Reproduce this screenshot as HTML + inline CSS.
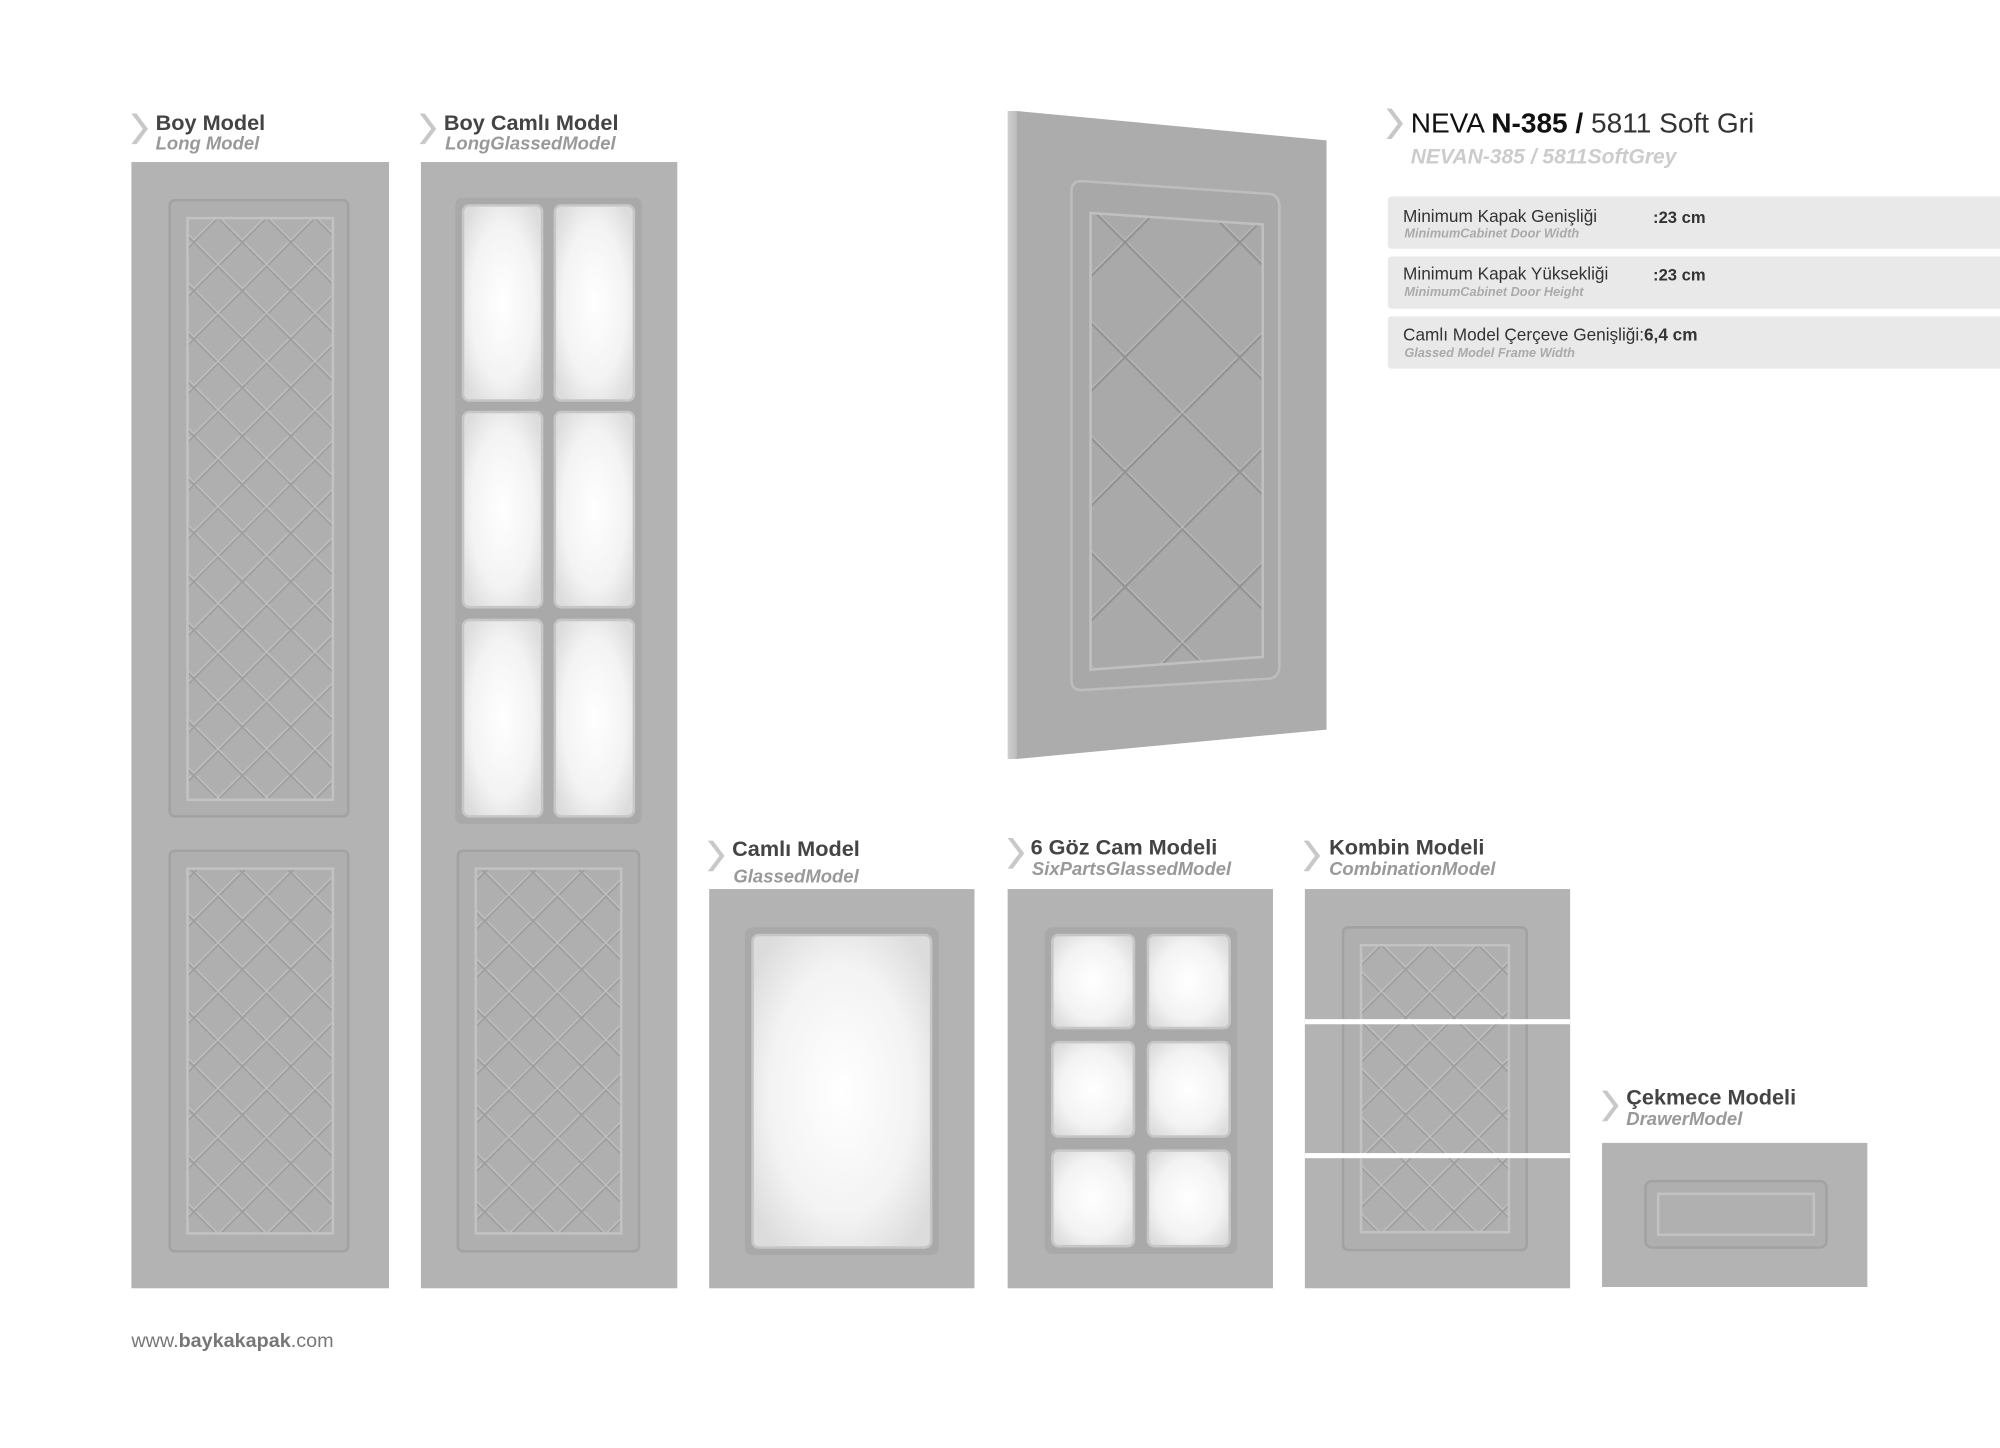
<!DOCTYPE html>
<html><head><meta charset="utf-8"><style>
html,body{margin:0;padding:0;background:#fff;}
svg{display:block;}
text{font-family:"Liberation Sans",Arial,sans-serif;}
</style></head><body>
<svg width="2000" height="1448" viewBox="0 0 1568 1135.2" xmlns="http://www.w3.org/2000/svg">
<defs>
<pattern id="dia" patternUnits="userSpaceOnUse" width="38" height="38" x="0" y="0">
<path d="M0 0L38 38M38 0L0 38" stroke="#9e9e9e" stroke-width="1.2" fill="none"/>
<path d="M1 -1L39 37M37 -1L-1 37" stroke="#c4c4c4" stroke-width="0.8" fill="none"/>
</pattern>
<pattern id="big" patternUnits="userSpaceOnUse" width="90" height="90" x="72" y="10">
<path d="M0 0L90 90M90 0L0 90" stroke="#939393" stroke-width="1.6" fill="none"/>
<path d="M1.5 -0.5L91.5 89.5M88.5 -0.5L-1.5 89.5" stroke="#bcbcbc" stroke-width="0.8" fill="none"/>
</pattern>
<radialGradient id="gl" cx="50%" cy="50%" r="62%">
<stop offset="0" stop-color="#ffffff"/><stop offset="0.65" stop-color="#f3f3f3"/><stop offset="1" stop-color="#dcdcdc"/>
</radialGradient>
<linearGradient id="edge" x1="0" x2="1"><stop offset="0" stop-color="#cfcfcf"/><stop offset="1" stop-color="#bdbdbd"/></linearGradient>
<clipPath id="bp"><polygon points="855,167 990,176 990,515 855,525"/></clipPath>
</defs>
<rect width="1568" height="1136" fill="#fff"/>

<g fill="#c8c8c8">
<path d="M103 89l4 0l9 12l-9 12l-4 0l9-12z"/>
<path d="M329 89l4 0l9 12l-9 12l-4 0l9-12z"/>
<path d="M555 659l4 0l9 12l-9 12l-4 0l9-12z"/>
<path d="M790 657l4 0l9 12l-9 12l-4 0l9-12z"/>
<path d="M1022 659l4 0l9 12l-9 12l-4 0l9-12z"/>
<path d="M1256 855l4 0l9 12l-9 12l-4 0l9-12z"/>
<path d="M1087 85l4 0l9 12l-9 12l-4 0l9-12z"/>
</g>

<g>
<text x="122" y="102" font-size="17" font-weight="bold" fill="#444">Boy Model</text>
<text x="122" y="117" font-size="14.5" font-weight="bold" font-style="italic" fill="#999">Long Model</text>
<text x="348" y="102" font-size="17" font-weight="bold" fill="#444">Boy Camlı Model</text>
<text x="349" y="117" font-size="14.5" font-weight="bold" font-style="italic" fill="#999">LongGlassedModel</text>
<text x="574" y="671" font-size="17" font-weight="bold" fill="#444">Camlı Model</text>
<text x="575" y="692" font-size="14.5" font-weight="bold" font-style="italic" fill="#999">GlassedModel</text>
<text x="808" y="670" font-size="17" font-weight="bold" fill="#444">6 Göz Cam Modeli</text>
<text x="809" y="686" font-size="14.5" font-weight="bold" font-style="italic" fill="#999">SixPartsGlassedModel</text>
<text x="1042" y="670" font-size="17" font-weight="bold" fill="#444">Kombin Modeli</text>
<text x="1042" y="686" font-size="14.5" font-weight="bold" font-style="italic" fill="#999">CombinationModel</text>
<text x="1275" y="866" font-size="17" font-weight="bold" fill="#444">Çekmece Modeli</text>
<text x="1275" y="882" font-size="14.5" font-weight="bold" font-style="italic" fill="#999">DrawerModel</text>
<text x="1106" y="104" font-size="22" fill="#111">NEVA <tspan font-weight="bold">N-385 /</tspan> <tspan fill="#333">5811 Soft Gri</tspan></text>
<text x="1106" y="128" font-size="16.5" font-weight="bold" font-style="italic" fill="#ccc">NEVAN-385 / 5811SoftGrey</text>
<text x="103" y="1056" font-size="15.5" fill="#777">www.<tspan font-weight="bold">baykakapak</tspan>.com</text>
</g>

<g>
<rect x="1088" y="154" width="485" height="41" rx="3" fill="#e9e9e9"/>
<rect x="1088" y="201" width="485" height="41" rx="3" fill="#e9e9e9"/>
<rect x="1088" y="248" width="485" height="41" rx="3" fill="#e9e9e9"/>
<text x="1100" y="174" font-size="13.5" fill="#333">Minimum Kapak Genişliği</text>
<text x="1296" y="175" font-size="13" font-weight="bold" fill="#333">:23 cm</text>
<text x="1101" y="186" font-size="10" font-weight="bold" font-style="italic" fill="#aaa">MinimumCabinet Door Width</text>
<text x="1100" y="219" font-size="13.5" fill="#333">Minimum Kapak Yüksekliği</text>
<text x="1296" y="220" font-size="13" font-weight="bold" fill="#333">:23 cm</text>
<text x="1101" y="232" font-size="10" font-weight="bold" font-style="italic" fill="#aaa">MinimumCabinet Door Height</text>
<text x="1100" y="267" font-size="13.5" fill="#333">Camlı Model Çerçeve Genişliği:<tspan font-weight="bold">6,4 cm</tspan></text>
<text x="1101" y="280" font-size="10" font-weight="bold" font-style="italic" fill="#aaa">Glassed Model Frame Width</text>
</g>

<!-- Boy Model -->
<g>
<rect x="103" y="127" width="202" height="883" fill="#b3b3b3"/>
<rect x="133" y="157" width="140" height="483" rx="4" fill="#afafaf" stroke="#a2a2a2" stroke-width="2"/>
<rect x="147" y="171" width="114" height="456" fill="url(#dia)" stroke="#c2c2c2" stroke-width="2"/>
<rect x="133" y="667" width="140" height="314" rx="4" fill="#afafaf" stroke="#a2a2a2" stroke-width="2"/>
<rect x="147" y="681" width="114" height="286" fill="url(#dia)" stroke="#c2c2c2" stroke-width="2"/>
</g>

<!-- Boy Camlı -->
<g>
<rect x="330" y="127" width="201" height="883" fill="#b3b3b3"/>
<rect x="357" y="155" width="146" height="491" rx="5" fill="#a9a9a9"/>
<g fill="url(#gl)" stroke="#c6c6c6" stroke-width="2">
<rect x="363" y="161" width="62" height="153" rx="5"/><rect x="435" y="161" width="62" height="153" rx="5"/>
<rect x="363" y="323" width="62" height="153" rx="5"/><rect x="435" y="323" width="62" height="153" rx="5"/>
<rect x="363" y="486" width="62" height="154" rx="5"/><rect x="435" y="486" width="62" height="154" rx="5"/>
</g>
<rect x="359" y="667" width="142" height="314" rx="4" fill="#afafaf" stroke="#a2a2a2" stroke-width="2"/>
<rect x="373" y="681" width="114" height="286" fill="url(#dia)" stroke="#c2c2c2" stroke-width="2"/>
</g>

<!-- big door -->
<g>
<polygon points="790,87 797,87 797,595 790,595" fill="url(#edge)"/>
<polygon points="797,87 1040,110 1040,572 797,595" fill="#acacac"/>
<path d="M848 142 L995 152 Q1003 153 1003 162 L1003 522 Q1003 531 995 532 L848 541 Q840 541 840 533 L840 150 Q840 142 848 142Z" fill="#a8a8a8" stroke="#bdbdbd" stroke-width="2"/>
<polygon points="855,167 990,176 990,515 855,525" fill="#a9a9a9"/>
<rect x="850" y="160" width="150" height="370" fill="url(#big)" clip-path="url(#bp)"/>
<polygon points="855,167 990,176 990,515 855,525" fill="none" stroke="#c0c0c0" stroke-width="2"/>
</g>

<!-- Camlı Model -->
<g>
<rect x="556" y="697" width="208" height="313" fill="#b3b3b3"/>
<rect x="584" y="727" width="152" height="257" rx="6" fill="#a9a9a9"/>
<rect x="590" y="733" width="140" height="245" rx="5" fill="url(#gl)" stroke="#c6c6c6" stroke-width="2"/>
</g>

<!-- 6 Göz -->
<g>
<rect x="790" y="697" width="208" height="313" fill="#b3b3b3"/>
<rect x="819" y="727" width="151" height="256" rx="6" fill="#a9a9a9"/>
<g fill="url(#gl)" stroke="#c6c6c6" stroke-width="2">
<rect x="825" y="733" width="64" height="73" rx="5"/><rect x="900" y="733" width="64" height="73" rx="5"/>
<rect x="825" y="817" width="64" height="74" rx="5"/><rect x="900" y="817" width="64" height="74" rx="5"/>
<rect x="825" y="902" width="64" height="75" rx="5"/><rect x="900" y="902" width="64" height="75" rx="5"/>
</g>
</g>

<!-- Kombin -->
<g>
<rect x="1023" y="697" width="208" height="313" fill="#b3b3b3"/>
<rect x="1053" y="727" width="144" height="253" rx="4" fill="#afafaf" stroke="#a2a2a2" stroke-width="2"/>
<rect x="1067" y="741" width="116" height="225" fill="url(#dia)" stroke="#c2c2c2" stroke-width="2"/>
<rect x="1023" y="799" width="208" height="4" fill="#fff"/>
<rect x="1023" y="904" width="208" height="4" fill="#fff"/>
</g>

<!-- Çekmece -->
<g>
<rect x="1256" y="896" width="208" height="113" fill="#b3b3b3"/>
<rect x="1290" y="926" width="142" height="52" rx="5" fill="#afafaf" stroke="#a2a2a2" stroke-width="2"/>
<rect x="1300" y="936" width="122" height="32" fill="#b0b0b0" stroke="#c2c2c2" stroke-width="2"/>
</g>
</svg>
</body></html>
